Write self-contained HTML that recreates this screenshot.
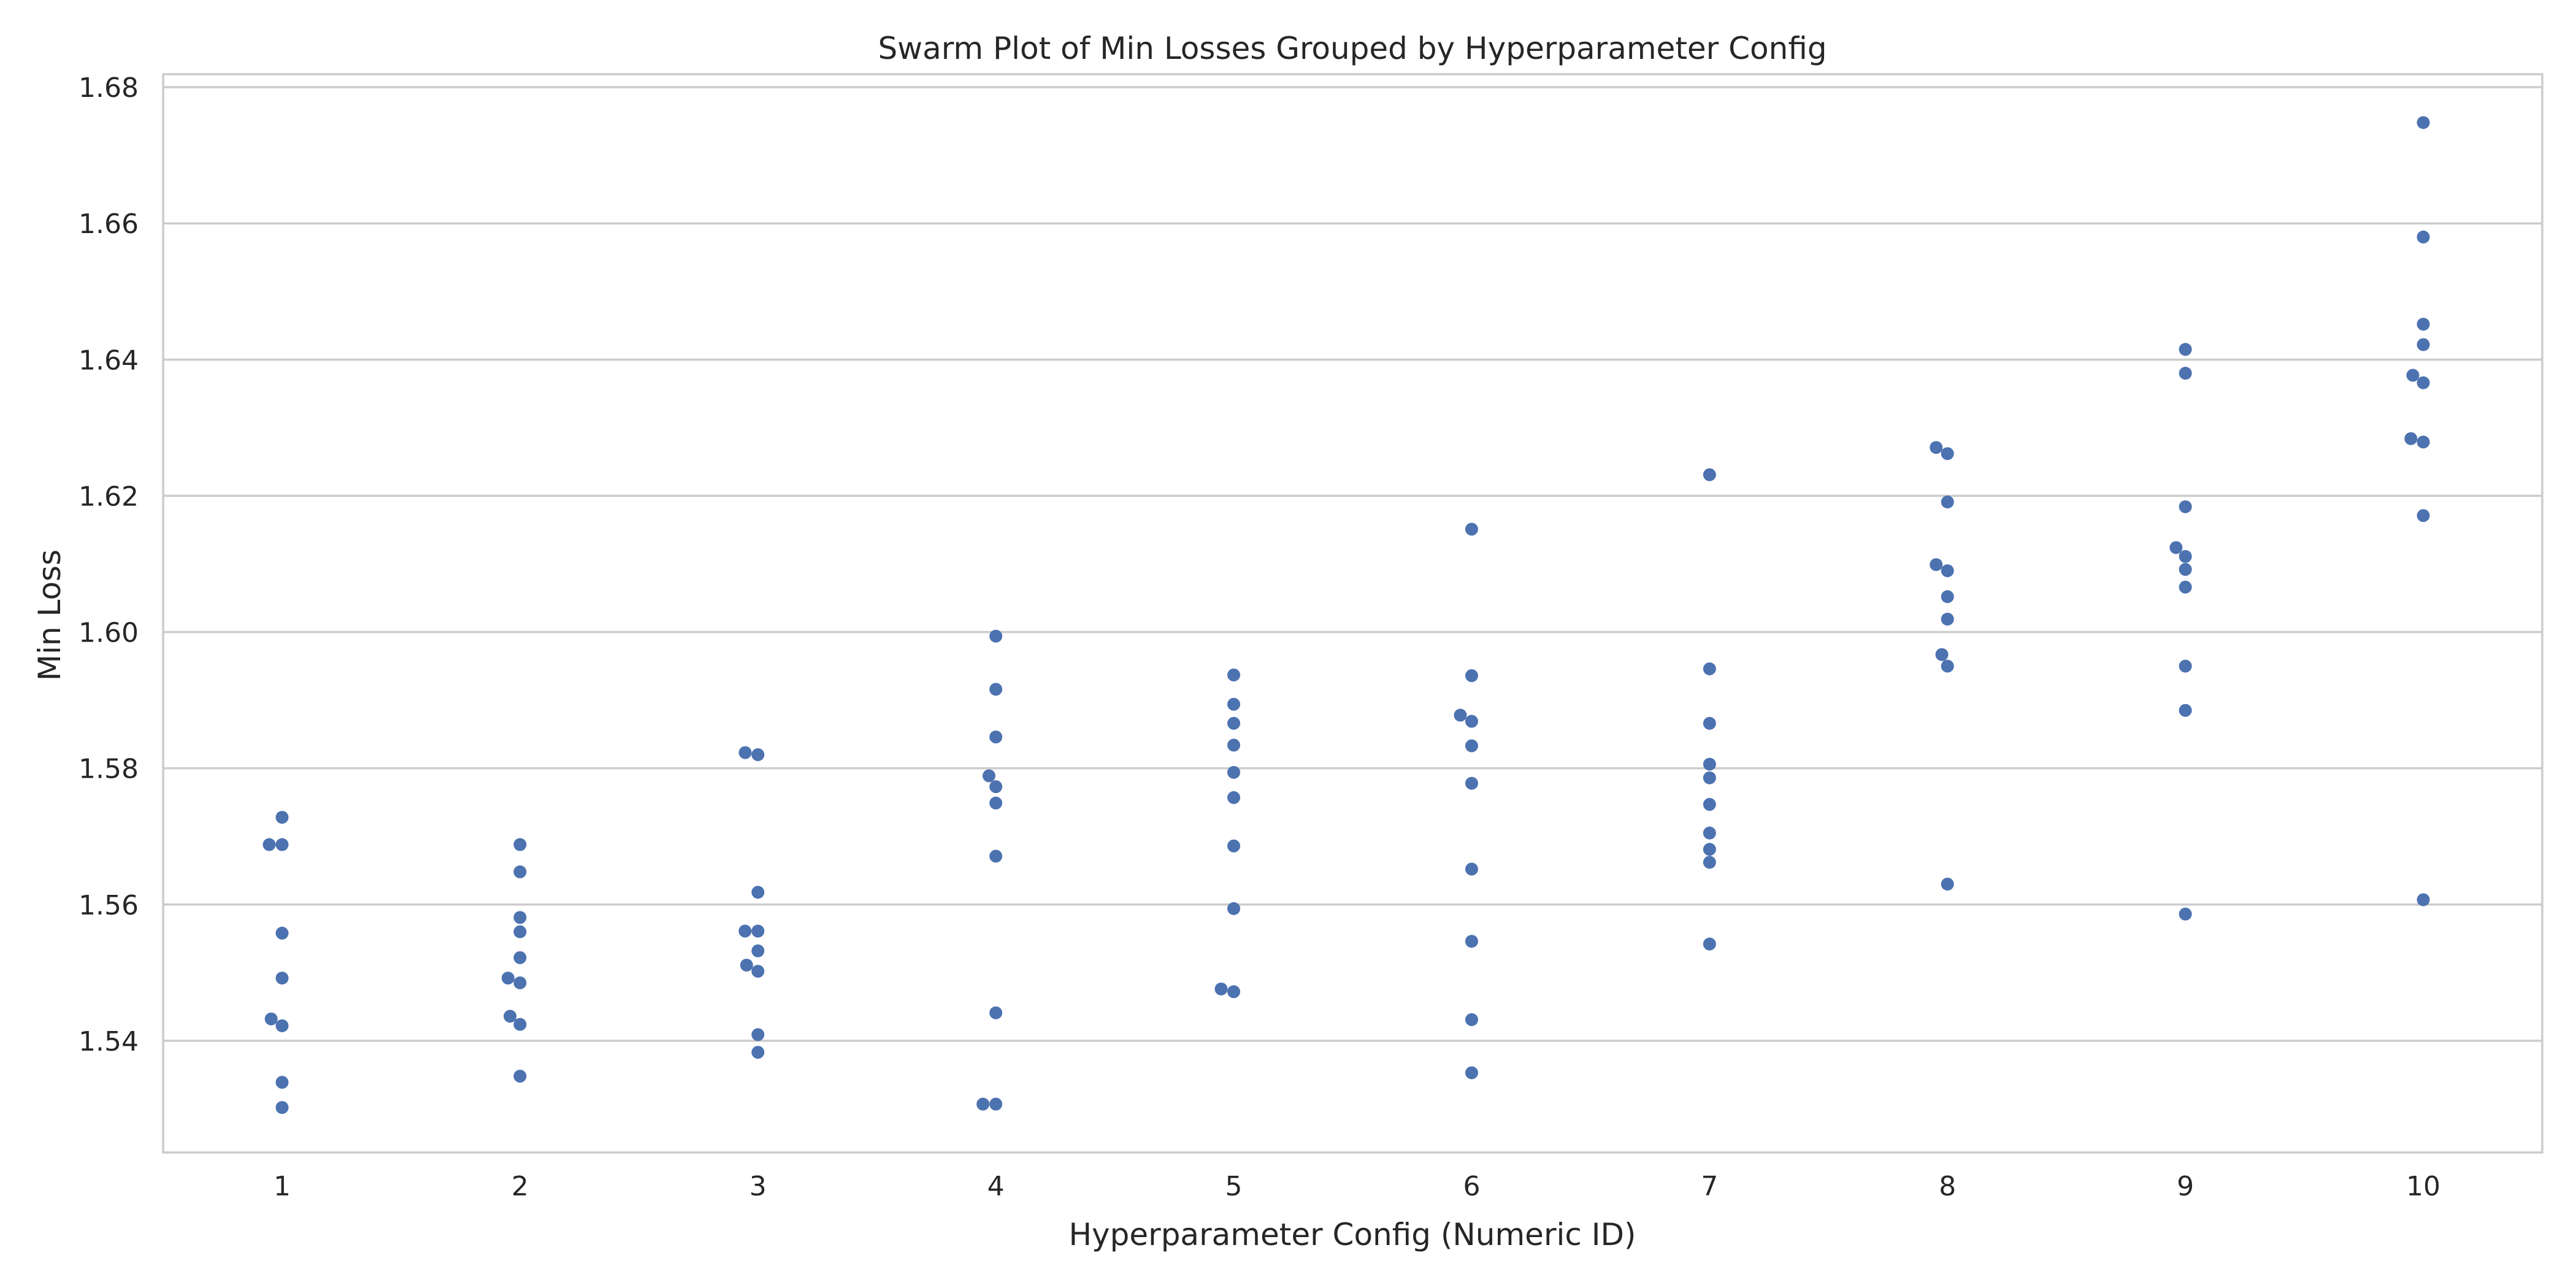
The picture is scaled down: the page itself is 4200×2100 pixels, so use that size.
<!DOCTYPE html>
<html><head><meta charset="utf-8">
<style>
html,body{margin:0;padding:0;background:#fff;}
svg{display:block;font-family:"DejaVu Sans","Liberation Sans",sans-serif;}
</style></head>
<body>
<svg id="chart" width="4200" height="2100" viewBox="0 0 4200 2100" xmlns="http://www.w3.org/2000/svg">
<rect x="0" y="0" width="4200" height="2100" fill="#ffffff"/>
<g id="grid"></g>
<g id="yticks"></g>
<g id="xticks"></g>
<rect x="266" y="121" width="3879" height="1758" fill="none" stroke="#cccccc" stroke-width="3.5"/>
<g id="points"></g>
<text x="2205" y="96" font-size="50" fill="#262626" text-anchor="middle">Swarm Plot of Min Losses Grouped by Hyperparameter Config</text>
<text x="2205" y="2030" font-size="50" fill="#262626" text-anchor="middle">Hyperparameter Config (Numeric ID)</text>
<text transform="translate(98,1003) rotate(-90)" font-size="50" fill="#262626" text-anchor="middle">Min Loss</text>
</svg>
<script>
const categories = ["1","2","3","4","5","6","7","8","9","10"];
const yTicks = [1.54,1.56,1.58,1.60,1.62,1.64,1.66,1.68];
const yTickLabels = ["1.54","1.56","1.58","1.60","1.62","1.64","1.66","1.68"];
const cfg1 = [1.5728,1.5688,1.5688,1.5558,1.5492,1.5432,1.5422,1.5339,1.5302];
const cfg2 = [1.5688,1.5648,1.5581,1.5560,1.5522,1.5492,1.5485,1.5436,1.5424,1.5348];
const cfg3 = [1.5823,1.5820,1.5618,1.5561,1.5561,1.5532,1.5511,1.5502,1.5409,1.5383];
const cfg4 = [1.5994,1.5916,1.5846,1.5789,1.5773,1.5749,1.5671,1.5441,1.5307,1.5307];
const cfg5 = [1.5937,1.5894,1.5866,1.5834,1.5794,1.5757,1.5686,1.5594,1.5476,1.5472];
const cfg6 = [1.6151,1.5936,1.5878,1.5869,1.5833,1.5778,1.5652,1.5546,1.5431,1.5353];
const cfg7 = [1.6231,1.5946,1.5866,1.5806,1.5786,1.5747,1.5705,1.5681,1.5662,1.5542];
const cfg8 = [1.6271,1.6262,1.6191,1.6099,1.6090,1.6052,1.6019,1.5967,1.5950,1.5630];
const cfg9 = [1.6415,1.6380,1.6184,1.6124,1.6111,1.6092,1.6066,1.5950,1.5885,1.5586];
const cfg10 = [1.6748,1.6580,1.6452,1.6422,1.6377,1.6366,1.6284,1.6279,1.6171,1.5607];
const seriesValues = [cfg1,cfg2,cfg3,cfg4,cfg5,cfg6,cfg7,cfg8,cfg9,cfg10];

const NS = "http://www.w3.org/2000/svg";
const PL = 266, PR = 4145, PT = 121, PB = 1879;
const yMin = 1.5236, yMax = 1.6819;
function yScale(v){ return PB - (v - yMin) / (yMax - yMin) * (PB - PT); }
const band = (PR - PL) / categories.length;
function xScale(i){ return PL + band * (i + 0.5); }
const R = 10.5, D = 2 * R;

function mk(tag, attrs){ const e = document.createElementNS(NS, tag); for (const k in attrs) e.setAttribute(k, attrs[k]); return e; }

const grid = document.getElementById('grid');
const yt = document.getElementById('yticks');
yTicks.forEach((t, i) => {
  const y = yScale(t);
  const ln = mk('line', {x1: PL, x2: PR, y1: y, y2: y, stroke: '#cccccc', 'stroke-width': 3.5});
  
  
  grid.appendChild(ln);
  const tx = mk('text', {x: 226, y: y + 16, 'font-size': 44, fill: '#262626', 'text-anchor': 'end'});
  tx.textContent = yTickLabels[i];
  
  
  yt.appendChild(tx);
});
const xt = document.getElementById('xticks');
categories.forEach((c, i) => {
  const tx = mk('text', {x: xScale(i), y: 1949, 'font-size': 44, fill: '#262626', 'text-anchor': 'middle'});
  tx.textContent = c;
  
  
  xt.appendChild(tx);
});

const pts = document.getElementById('points');
seriesValues.forEach((vals, ci) => {
  const cx0 = xScale(ci);
  const ys = vals.map(yScale).sort((a, b) => b - a);
  const placed = [];
  ys.forEach(y => {
    const cands = [0];
    placed.forEach(p => {
      const dy = Math.abs(p.y - y);
      if (dy < D) {
        const dx = Math.sqrt(D * D - dy * dy);
        cands.push(p.x - dx, p.x + dx);
      }
    });
    cands.sort((a, b) => Math.abs(a) - Math.abs(b) || a - b);
    let chosen = 0;
    for (const cx of cands) {
      const ok = placed.every(p => Math.hypot(p.x - cx, p.y - y) >= D - 0.01);
      if (ok) { chosen = cx; break; }
    }
    placed.push({x: chosen, y: y});
    const c = mk('circle', {cx: cx0 + chosen, cy: y, r: R, fill: '#4c72b0'});
    
    
    pts.appendChild(c);
  });
});
</script>
</body></html>
